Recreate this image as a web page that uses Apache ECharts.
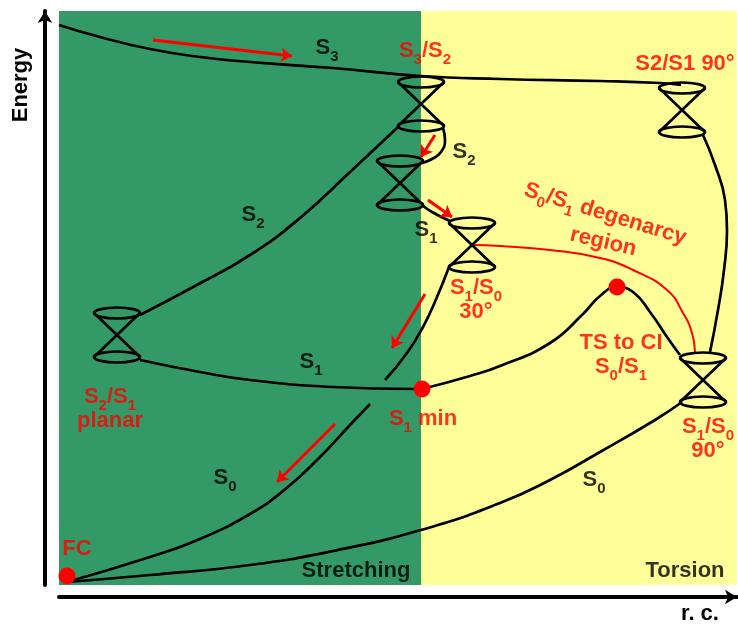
<!DOCTYPE html>
<html>
<head>
<meta charset="utf-8">
<script src="https://cdn.jsdelivr.net/npm/echarts/dist/echarts.min.js"></script>
<style>
html,body{margin:0;padding:0;background:#fff;}
#main{width:738px;height:625px;}
</style>
</head>
<body>
<div id="main"></div>
<script>
// schematic units: reaction coordinate 0..678, energy 0..574
var rcRange = [0, 678];
var energyRange = [0, 574];

// background regions [from, to]
var regions = [[0, 362], [362, 678]];

// potential energy curves
var s3Curve = [[0,560],[41,548],[91,536],[141,528],[191,523],[274,517],[362,509],[441,506],[541,504],[601,502],[622,500]];
var s2Left = [[81,270],[136,299],[191,330],[241,367],[291,413],[339,458]];
var s1Left = [[81,225],[141,213],[191,205],[274,198],[356,196],[363,196]];
var s1Down = [[390,318],[378,288],[364,258],[348,232],[326,205]];
var s0Stretch = [[8,3],[91,28],[141,46],[191,71],[224,94],[258,125],[291,160],[311,181]];
var s0Torsion = [[8,3],[91,10],[191,20],[274,34],[362,55],[441,82],[491,105],[541,133],[596,165],[623,183]];
var s1Torsion = [[363,196],[411,209],[441,219],[491,242],[524,271],[541,289],[558,298],[574,293],[591,273],[608,248],[621,230]];
var s2Torsion = [[644,450],[656,420],[666,385],[668,355],[665,315],[659,275],[651,233]];
var s2Link = [[384,457],[386,445],[382,433],[373,426],[363,422]];
var s1Link = [[363,380],[373,373],[391,364]];
var degeneracy = [[413,340],[441,339],[491,335],[541,327],[574,315],[608,295],[624,272],[633,252],[636,233]];

// conical intersections (crossing point)
var cones = [[362,481],[341,402],[413,340],[58,250],[623,475],[644,205]];

// special points: FC, S1 min, TS
var points = [[8,9],[363,196],[558,298]];

// red arrows [start, tip]
var arrows = [
  [[94,545],[233,529]],
  [[376,450],[362,428]],
  [[369,385],[393,368]],
  [[366,291],[333,237]],
  [[276,161],[218,103]]
];

// labels [x, y, text, colour key, rotate]
var labels = [
  [268,536,'{m|S}{s|3}','k',0],
  [366,533,'{m|S}{s|3}{m|/S}{s|2}','r',0],
  [626,520,'{m|S2/S1 90°}','r',0],
  [405,432,'{m|S}{s|2}','k',0],
  [194,369,'{m|S}{s|2}','k',0],
  [367,354,'{m|S}{s|1}','k',0],
  [417,284,'{m|S}{s|1}{m|/S}{s|0}\n{m|30°}','r',0],
  [546,370,'{m|S}{s|0}{m|/S}{s|1}{m| degenarcy}','r',-17],
  [544,342,'{m|region}','r',-13],
  [562,229,'{m|TS to CI}\n{m|S}{s|0}{m|/S}{s|1}','r',0],
  [252,222,'{m|S}{s|1}','k',0],
  [364,165,'{m|S}{s|1}{m| min}','r',0],
  [51,175,'{m|S}{s|2}{m|/S}{s|1}\n{m|planar}','r',0],
  [649,145,'{m|S}{s|1}{m|/S}{s|0}\n{m|90°}','r',0],
  [166,106,'{m|S}{s|0}','k',0],
  [535,104,'{m|S}{s|0}','k',0],
  [18,35,'{m|FC}','r',0],
  [297,13,'{m|Stretching}','k',0],
  [626,13,'{m|Torsion}','k',0]
];

var regionColors = ['#339966', '#ffff99'];
var font = 'Liberation Sans';
var red = '#ff0000';

var chart = echarts.init(document.getElementById('main'));

function curve(data, color, width, z) {
  return {
    type: 'line', data: data, smooth: 0.5, showSymbol: false, silent: true,
    lineStyle: {color: color, width: width}, z: z
  };
}

var series = [];
series.push({
  type: 'custom', data: regions, silent: true, z: 1,
  renderItem: function (params, api) {
    var p0 = api.coord([api.value(0), energyRange[1]]);
    var p1 = api.coord([api.value(1), energyRange[0]]);
    return {type: 'rect', shape: {x: p0[0], y: p0[1], width: p1[0] - p0[0], height: p1[1] - p0[1]},
      style: {fill: regionColors[params.dataIndex]}};
  }
});
[s3Curve, s2Left, s1Left, s1Down, s0Stretch, s0Torsion, s1Torsion, s2Torsion, s2Link, s1Link].forEach(function (d) {
  series.push(curve(d, '#000', 2.7, 3));
});
series.push(curve(degeneracy, red, 2, 3));
series.push({
  type: 'custom', data: cones, silent: true, z: 4,
  renderItem: function (params, api) {
    var c = api.coord([api.value(0), api.value(1)]);
    var rx = 23, h = 22, ry = 5.5;
    var st = {stroke: '#000', lineWidth: 2.7, fill: 'transparent'};
    return {type: 'group', children: [
      {type: 'line', shape: {x1: c[0] - rx, y1: c[1] - h, x2: c[0] + rx, y2: c[1] + h}, style: st},
      {type: 'line', shape: {x1: c[0] + rx, y1: c[1] - h, x2: c[0] - rx, y2: c[1] + h}, style: st},
      {type: 'ellipse', shape: {cx: c[0], cy: c[1] - h, rx: rx, ry: ry}, style: st},
      {type: 'ellipse', shape: {cx: c[0], cy: c[1] + h, rx: rx, ry: ry}, style: st}
    ]};
  }
});
series.push({
  type: 'lines', coordinateSystem: 'cartesian2d', silent: true, z: 5,
  data: arrows.map(function (a) { return {coords: a}; }),
  symbol: ['none', 'arrow'], symbolSize: 11,
  lineStyle: {color: red, width: 3, opacity: 1}
});
series.push({
  type: 'scatter', data: points, symbolSize: 17, silent: true, z: 6,
  itemStyle: {color: red, opacity: 1}
});
series.push({
  type: 'scatter', silent: true, z: 7, symbolSize: 0,
  itemStyle: {color: 'transparent'},
  label: {
    show: true, position: 'inside', align: 'center', verticalAlign: 'middle',
    rich: {
      m: {fontFamily: font, fontWeight: 'bold', fontSize: 22, lineHeight: 24, verticalAlign: 'top'},
      s: {fontFamily: font, fontWeight: 'bold', fontSize: 15, lineHeight: 15, padding: [12, 0, 0, 0], verticalAlign: 'top'}
    }
  },
  data: labels.map(function (l) {
    return {value: [l[0], l[1]], label: {formatter: l[2], color: l[3] === 'r' ? red : '#000', rotate: l[4]}};
  })
});

chart.setOption({
  animation: false,
  backgroundColor: '#fff',
  grid: {left: 59, right: 1, top: 11, bottom: 40},
  xAxis: {
    type: 'value', min: rcRange[0], max: rcRange[1], offset: 12,
    axisLine: {show: true, onZero: false, lineStyle: {color: '#000', width: 4}, symbol: ['none', 'arrow'], symbolSize: [11, 12]},
    axisTick: {show: false}, axisLabel: {show: false}, splitLine: {show: false}
  },
  yAxis: {
    type: 'value', min: energyRange[0], max: energyRange[1], offset: 14,
    axisLine: {show: true, onZero: false, lineStyle: {color: '#000', width: 4}, symbol: ['none', 'arrow'], symbolSize: [11, 12]},
    axisTick: {show: false}, axisLabel: {show: false}, splitLine: {show: false}
  },
  graphic: [
    {type: 'text', x: 21, y: 85, rotation: Math.PI / 2,
      style: {text: 'Energy', font: 'bold 22px "Liberation Sans"', fill: '#000', align: 'center', verticalAlign: 'middle'}},
    {type: 'text', x: 700, y: 614,
      style: {text: 'r. c.', font: 'bold 22px "Liberation Sans"', fill: '#000', align: 'center', verticalAlign: 'middle'}}
  ],
  series: series
});
</script>
</body>
</html>
